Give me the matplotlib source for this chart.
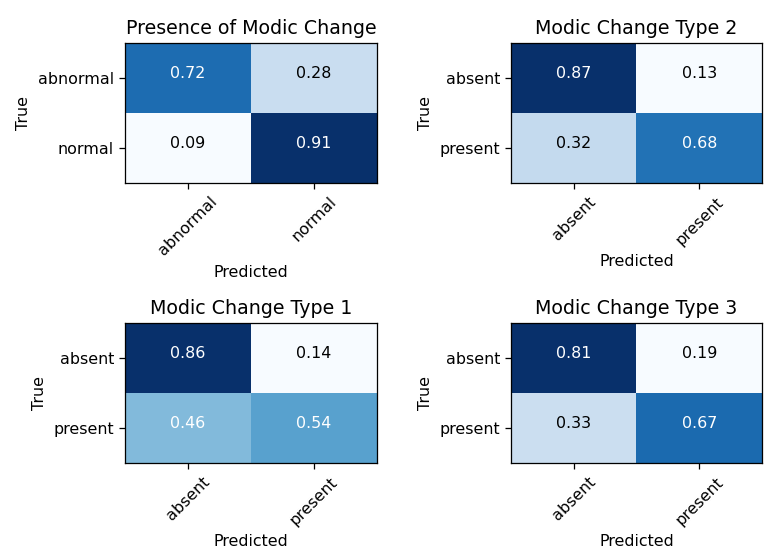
import matplotlib
matplotlib.use("Agg")
import matplotlib.pyplot as plt
import numpy as np

titles = ["Presence of Modic Change", "Modic Change Type 2", "Modic Change Type 1", "Modic Change Type 3"]
labels_list = [["abnormal", "normal"], ["absent", "present"], ["absent", "present"], ["absent", "present"]]
mat_presence = [[0.72, 0.28], [0.09, 0.91]]
mat_type2 = [[0.87, 0.13], [0.32, 0.68]]
mat_type1 = [[0.86, 0.14], [0.46, 0.54]]
mat_type3 = [[0.81, 0.19], [0.33, 0.67]]
matrices = [mat_presence, mat_type2, mat_type1, mat_type3]

s = 1.14
plt.rcParams.update({
    "font.size": 10 * s,
    "axes.linewidth": 0.8 * s,
    "xtick.major.size": 3.5 * s,
    "ytick.major.size": 3.5 * s,
    "xtick.major.width": 0.8 * s,
    "ytick.major.width": 0.8 * s,
    "xtick.major.pad": 3.5 * s,
    "ytick.major.pad": 3.5 * s,
    "axes.labelpad": 4 * s,
    "axes.titlepad": 6 * s,
})

fig = plt.figure(figsize=(7.79, 5.6), dpi=100)
W, H = 779, 560
boxes = [(125, 43, 377, 183), (511, 43, 762, 183), (125, 323, 377, 463), (511, 323, 762, 463)]

for (x0, y0, x1, y1), title, labs, m in zip(boxes, titles, labels_list, matrices):
    ax = fig.add_axes([x0 / W, 1 - y1 / H, (x1 - x0) / W, (y1 - y0) / H])
    arr = np.array(m)
    ax.imshow(arr, cmap="Blues", aspect="auto", interpolation="nearest")
    thresh = arr.max() / 2
    for i in range(arr.shape[0]):
        for j in range(arr.shape[1]):
            ax.text(j, i, f"{arr[i, j]:.2f}", ha="center", va="baseline",
                    color="white" if arr[i, j] > thresh else "black", fontsize=10 * s)
    ax.set_xticks(range(len(labs)))
    ax.set_yticks(range(len(labs)))
    ax.set_xticklabels(labs, rotation=45)
    ax.set_yticklabels(labs)
    ax.set_xlabel("Predicted")
    ax.set_ylabel("True")
    ax.set_title(title, fontsize=12 * s)

fig.savefig("out.png", dpi=100)
